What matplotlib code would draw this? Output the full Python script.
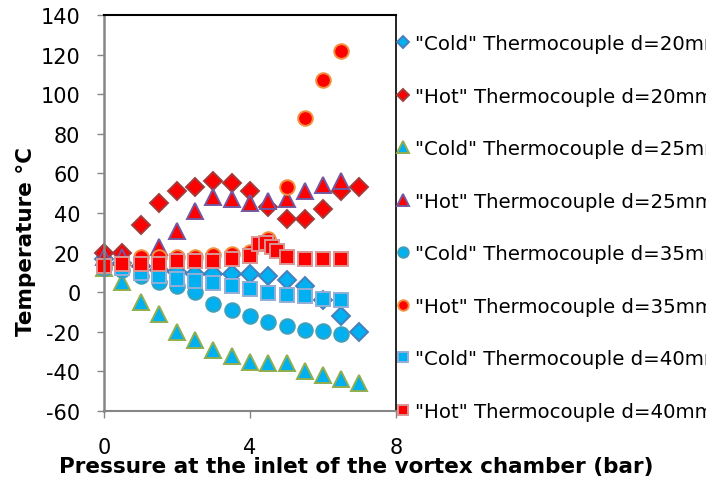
import matplotlib
matplotlib.use('Agg')
import matplotlib.pyplot as plt

plt.rcParams['axes.unicode_minus'] = False

# Pressure (bar) and temperature (°C)
x_cold20 = [0, 0.5, 1, 1.5, 2, 2.5, 3, 3.5, 4, 4.5, 5, 5.5, 6, 6.5, 7]
t_cold20 = [17, 15, 13, 11, 10, 9, 9, 9, 9, 8, 6, 3, -4, -12, -20]

x_hot20 = [0, 0.5, 1, 1.5, 2, 2.5, 3, 3.5, 4, 4.5, 5, 5.5, 6, 6.5, 7]
t_hot20 = [20, 20, 34, 45, 51, 53, 56, 55, 51, 43, 37, 37, 42, 51, 53]

x_cold25 = [0, 0.5, 1, 1.5, 2, 2.5, 3, 3.5, 4, 4.5, 5, 5.5, 6, 6.5, 7]
t_cold25 = [12, 5, -5, -11, -20, -24, -29, -32, -35, -36, -36, -40, -42, -44, -46]

x_hot25 = [0, 0.5, 1, 1.5, 2, 2.5, 3, 3.5, 4, 4.5, 5, 5.5, 6, 6.5]
t_hot25 = [18, 18, 17, 23, 31, 41, 48, 47, 45, 46, 47, 51, 54, 56]

x_cold35 = [0, 0.5, 1, 1.5, 2, 2.5, 3, 3.5, 4, 4.5, 5, 5.5, 6, 6.5]
t_cold35 = [12, 11, 8, 5, 3, 0, -6, -9, -12, -15, -17, -19, -19.5, -21]

x_hot35 = [0, 0.5, 1, 1.5, 2, 2.5, 3, 3.5, 4, 4.5, 5, 5.5, 6, 6.5]
t_hot35 = [13, 14, 18, 18, 18, 18, 19, 19.5, 20.5, 27, 53, 88, 107, 122]

x_cold40 = [0, 0.5, 1, 1.5, 2, 2.5, 3, 3.5, 4, 4.5, 5, 5.5, 6, 6.5]
t_cold40 = [13, 12, 9.5, 8, 6.5, 5.5, 4.5, 3, 1.5, -0.5, -1.5, -2, -3.5, -4]

x_hot40 = [0, 0.5, 1, 1.5, 2, 2.5, 3, 3.5, 4, 4.25, 4.45, 4.6, 4.75, 5, 5.5, 6, 6.5]
t_hot40 = [13, 14, 14, 14, 16, 16, 16, 17, 18.5, 24.5, 25, 23, 21, 18, 17, 17, 17]

labels = ['"Cold" Thermocouple d=20mm', '"Hot" Thermocouple d=20mm',
          '"Cold" Thermocouple d=25mm', '"Hot" Thermocouple d=25mm',
          '"Cold" Thermocouple d=35mm', '"Hot" Thermocouple d=35mm',
          '"Cold" Thermocouple d=40mm', '"Hot" Thermocouple d=40mm']

cyan = '#00B0F0'
red = '#FF0000'

series = [
    (x_cold20, t_cold20, 'D', 9, cyan, '#4A7EBB'),
    (x_hot20, t_hot20, 'D', 9, red, '#A33B3B'),
    (x_cold25, t_cold25, '^', 12, cyan, '#8FAE4F'),
    (x_hot25, t_hot25, '^', 12, red, '#7558A0'),
    (x_cold35, t_cold35, 'o', 10.5, cyan, '#3FA0B8'),
    (x_hot35, t_hot35, 'o', 10.5, red, '#F0913E'),
    (x_cold40, t_cold40, 's', 9.5, cyan, '#94AED6'),
    (x_hot40, t_hot40, 's', 9.5, red, '#D99694'),
]

fig = plt.figure(figsize=(7.06, 4.85), dpi=100)
ax = fig.add_axes([104 / 706, 1 - 412 / 485, 292 / 706, 396 / 485])

for (xs, ys, mk, ms, fc, ec), lab in zip(series, labels):
    ax.plot(xs, ys, linestyle='none', marker=mk, markersize=ms,
            markerfacecolor=fc, markeredgecolor=ec, markeredgewidth=1.4,
            label=lab, clip_on=False)

ax.set_xlim(0, 8)
ax.set_ylim(-60, 140)
ax.set_xticks([0, 4, 8])
ax.set_yticks(range(-60, 141, 20))

gray = '#868686'
ax.spines['left'].set_color(gray)
ax.spines['left'].set_linewidth(1.8)
ax.spines['bottom'].set_color(gray)
ax.spines['bottom'].set_linewidth(1.5)
ax.spines['top'].set_color('black')
ax.spines['top'].set_linewidth(1.5)
ax.spines['right'].set_color('black')
ax.spines['right'].set_linewidth(1.2)

ax.tick_params(axis='y', direction='out', length=5, width=1, color=gray,
               labelsize=15, pad=12)
ax.tick_params(axis='x', direction='out', length=5, width=1, color=gray,
               labelsize=15, pad=14)

fig.text(356 / 706, 1 - 467 / 485, 'Pressure at the inlet of the vortex chamber (bar)',
         ha='center', va='center', fontsize=15.5, fontweight='bold')
fig.text(26 / 706, 1 - 241 / 485, 'Temperature °C', rotation=90,
         ha='center', va='center', fontsize=15.5, fontweight='bold')

fig.legend(loc='upper left', bbox_to_anchor=(397 / 706, 1 - 35 / 485),
           frameon=False, fontsize=14.2, markerscale=0.72,
           handlelength=0.6, handletextpad=0.31, labelspacing=1.7,
           borderpad=0, borderaxespad=0)

fig.savefig('out.png', dpi=100)
